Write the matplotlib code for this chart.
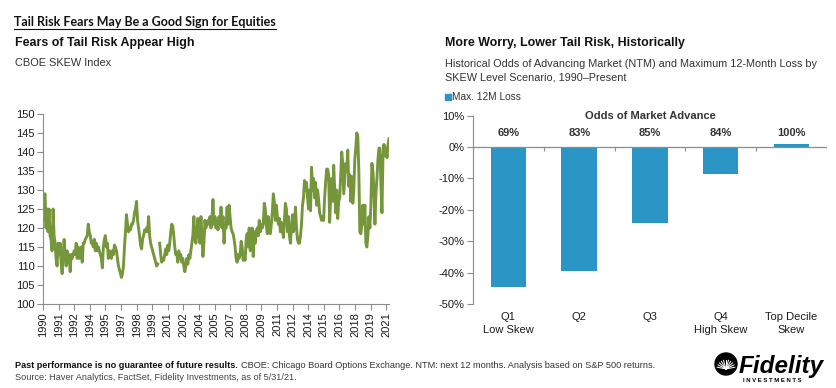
import matplotlib
matplotlib.use("Agg")
import matplotlib.pyplot as plt
import numpy as np
from matplotlib.lines import Line2D
from matplotlib.patches import Rectangle, Ellipse

plt.rcParams["font.family"] = ["Liberation Sans", "DejaVu Sans"]

# CBOE SKEW index (roughly one point per month, gap in 2000)
skew = [
    122, 128, 129, 120, 125, 119, 125, 118, 117, 114, 125, 118, 116, 112, 110, 116, 113, 116, 111, 108,
    113, 117, 113, 110, 114, 111, 113, 108.5,
    113, 112, 113, 114, 113, 116, 112, 115, 112, 113, 115, 111, 116, 116, 117, 117.5,
    118, 121, 119, 118, 116, 116.5, 115, 117, 114, 116, 114, 115, 114, 113, 112, 109.5, 115, 117, 118, 115,
    116, 112, 114, 113, 112, 114, 113, 115.5, 115, 114, 112, 110, 109, 108, 107, 108, 110, 115, 119, 123.5,
    121, 119, 120, 119.5, 121, 121, 122, 124, 125, 127, 122, 120, 118, 115.5, 114.5, 117, 118, 119.5, 119, 120,
    119, 123, 118, 116, 115, 114, 113, 112, 111, 110, 110.5, np.nan, 116, 113, 111, 112, 111.5, 113, 114.5, 113,
    115.5, 114, 116, 119, 121, 120.5, 118, 115, 113, 113.5, 111, 114, 112, 113, 111, 112, 110, 108.5, 110, 112,
    110.5, 113, 112, 114, 116, 118, 123, 117, 116, 119, 122.5, 118, 116, 123, 118, 112.5, 116, 122, 120, 121,
    122, 121, 123, 120, 122, 127.5, 121, 123, 120, 122, 119.5, 123, 121, 125.5, 120, 123, 116, 121, 120, 125.5,
    121, 126, 123, 120, 119, 118.5, 117, 115, 112, 111, 113, 112, 113, 116.5, 115, 111.5, 112.5, 111.5, 117, 118.5,
    115, 120, 114, 117, 120, 112.5, 119, 116, 119, 120, 118, 122, 119, 121, 120, 121, 126.5, 125, 121, 118.5,
    123, 119, 118.5, 121, 124, 129, 127, 122, 126, 123, 121, 122.5, 119, 121.5, 120, 117.5, 122, 126.5, 125, 119,
    123, 118, 116, 120, 123.5, 119, 121, 125.5, 120, 117, 116, 116, 118, 121, 126, 128, 132.5, 130, 132, 128,
    125, 130, 124.5, 136, 130, 133, 128, 132, 126, 130, 127.5, 124, 123, 122, 123, 122, 128, 132, 135.5, 135.5,
    134, 121.5, 128, 133, 127, 136.5, 130, 124, 130, 122.5, 127, 128, 134, 140, 137, 129, 133, 137, 135, 140.5,
    131, 134, 127, 133.5, 126.5, 130, 138, 141, 145, 144, 135, 119, 118.5, 121, 126, 121, 126, 116, 115, 118,
    123, 120, 126, 137, 135, 130, 121, 129, 133, 138, 141, 141, 131, 124, 139, 142, 139, 141, 138.5, 142, 143.5,
]
year_labels = ["1990", "1991", "1992", "1994", "1995", "1997", "1998", "1999", "2001", "2002", "2004",
               "2005", "2007", "2008", "2009", "2011", "2012", "2014", "2015", "2016", "2018", "2019", "2021"]
label_step = 17   # months between year labels
n_months = 377    # Jan 1990 .. May 2021

scenarios = ["Q1\nLow Skew", "Q2", "Q3", "Q4\nHigh Skew", "Top Decile\nSkew"]
max_loss = [-44.7, -39.5, -24.2, -8.6, 1.0]
odds = ["69%", "83%", "85%", "84%", "100%"]

W, H = 837, 388
fig = plt.figure(figsize=(W / 100, H / 100), dpi=100)
axis_grey = "#8c8c8c"
text_col = "#1a1a1a"
bar_col = "#2b95c6"


def box(l, t, r, b):
    return [l / W, 1 - b / H, (r - l) / W, (b - t) / H]


def fy(y):
    return 1 - y / H


# left: SKEW index line
ax1 = fig.add_axes(box(43, 114, 389, 304))
x = np.linspace(0, n_months, len(skew))
ax1.plot(x, skew, color="#76963c", lw=2.1, solid_joinstyle="round")
ax1.set_xlim(0, n_months)
ax1.set_ylim(100, 150)
ax1.set_yticks(np.arange(100, 151, 5))
ax1.set_xticks(np.arange(len(year_labels)) * label_step)
ax1.set_xticklabels(year_labels, rotation=90)
for s in ["top", "right"]:
    ax1.spines[s].set_visible(False)
for s in ["left", "bottom"]:
    ax1.spines[s].set_color(axis_grey)
ax1.tick_params(colors=axis_grey, labelcolor=text_col, labelsize=8, length=4, width=0.8, pad=2)

# right: max 12M loss bars
ax2 = fig.add_axes(box(473, 115.7, 827, 304))
pos = np.arange(len(scenarios))
ax2.bar(pos, max_loss, width=0.5, color=bar_col)
ax2.set_xlim(-0.5, len(scenarios) - 0.5)
ax2.set_ylim(-50, 10)
ax2.set_yticks(np.arange(-50, 11, 10))
ax2.set_yticklabels([f"{v}%" for v in range(-50, 11, 10)])
ax2.axhline(0, color=axis_grey, lw=0.9)
ax2.vlines(np.arange(len(scenarios) + 1) - 0.5, -1.1, 0, color=axis_grey, lw=0.8)
ax2.set_xticks(pos)
ax2.set_xticklabels(scenarios, linespacing=1.3)
for s in ["top", "right", "bottom"]:
    ax2.spines[s].set_visible(False)
ax2.spines["left"].set_color(axis_grey)
ax2.tick_params(axis="y", colors=axis_grey, labelcolor=text_col, labelsize=8, length=4, width=0.8, pad=2)
ax2.tick_params(axis="x", length=0, labelsize=8, labelcolor=text_col, pad=6)
ax2.text(2, 10, "Odds of Market Advance", ha="center", va="center", fontsize=8, weight="bold", color="#333333")
for p, o in zip(pos, odds):
    ax2.text(p, 4.4, o, ha="center", va="center", fontsize=8, weight="bold", color="#333333")

# titles
title = fig.text(14 / W, fy(21.5), "Tail Risk Fears May Be a Good Sign for Equities", family=["Lato", "DejaVu Sans"],
                 weight="bold", fontsize=9, va="center", color="#111111")
fig.text(15 / W, fy(43), "Fears of Tail Risk Appear High", fontsize=8.9, weight="bold", va="center", color="#111111")
fig.text(15 / W, fy(63.5), "CBOE SKEW Index", fontsize=7.9, va="center", color="#333333")
fig.text(445 / W, fy(43), "More Worry, Lower Tail Risk, Historically", fontsize=8.9, weight="bold", va="center",
         color="#111111")
fig.text(445 / W, fy(64), "Historical Odds of Advancing Market (NTM) and Maximum 12-Month Loss by",
         fontsize=7.8, va="center", color="#333333")
fig.text(445 / W, fy(77), "SKEW Level Scenario, 1990\u2013Present", fontsize=7.8, va="center", color="#333333")
fig.patches.append(Rectangle((445 / W, fy(99.5)), 6 / W, 6 / H, transform=fig.transFigure, color=bar_col))
fig.text(452 / W, fy(96.5), "Max. 12M Loss", fontsize=7.3, va="center", color="#333333")

# footnote
foot_b = fig.text(15 / W, fy(366), "Past performance is no guarantee of future results.", fontsize=6.6,
                  weight="bold", va="center", color="#111111")
fig.text(15 / W, fy(377), "Source: Haver Analytics, FactSet, Fidelity Investments, as of 5/31/21.",
         fontsize=6.6, va="center", color="#444444")

# logo
fig.text(824 / W, fy(366), "Fidelity", fontsize=17.5, weight="heavy", style="italic", ha="right", va="center",
         color="black")
fig.text(743 / W, fy(380), "I N V E S T M E N T S", fontsize=4.3, weight="bold", ha="left", va="center")
cx, cy, rad = 726, 364, 11
fig.patches.append(Ellipse((cx / W, fy(cy)), 2 * rad / W, 2 * rad / H, transform=fig.transFigure, color="black"))
for a in np.linspace(0.2, np.pi - 0.2, 11):
    fig.lines.append(Line2D([cx / W, (cx + 9 * np.cos(a)) / W], [fy(cy + 5), fy(cy + 5 - 9 * np.sin(a))],
                            transform=fig.transFigure, color="white", lw=0.7))

fig.canvas.draw()
r = fig.canvas.get_renderer()
bb = foot_b.get_window_extent(r)
fig.text(bb.x1 / W + 3 / W, fy(366),
         "CBOE: Chicago Board Options Exchange. NTM: next 12 months. Analysis based on S&P 500 returns.",
         fontsize=6.6, va="center", color="#333333")
tb = title.get_window_extent(r)
fig.lines.append(Line2D([tb.x0 / W, tb.x1 / W], [(tb.y0 - 1) / H, (tb.y0 - 1) / H], transform=fig.transFigure,
                        color="#111111", lw=0.8))

fig.savefig("out.png", dpi=100)
